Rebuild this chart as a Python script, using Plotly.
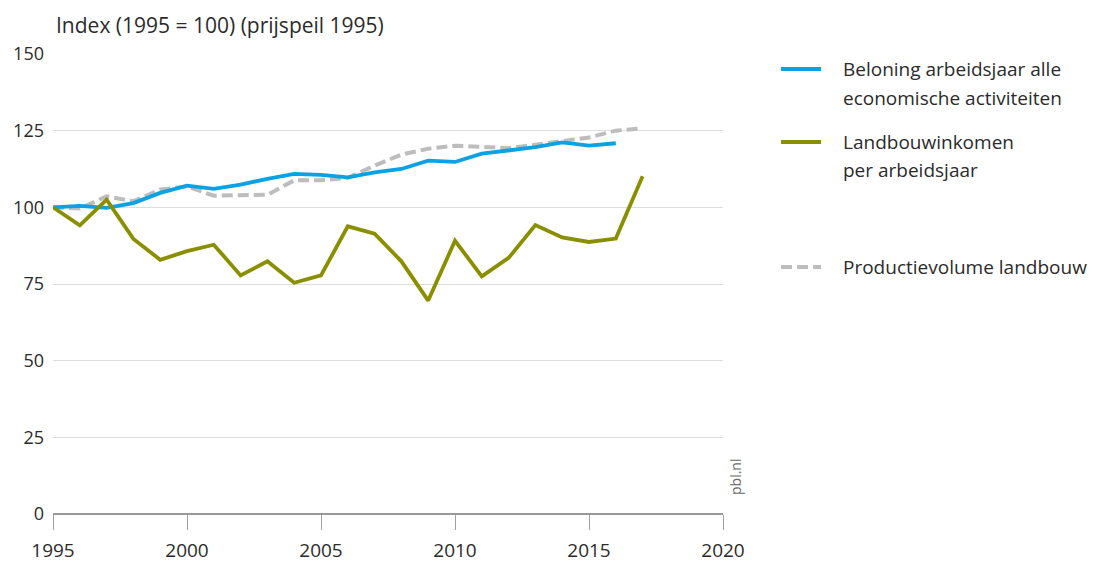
import plotly.graph_objects as go

years = list(range(1995, 2018))
beloning = [100, 100.5, 99.8, 101.4, 104.7, 107.1, 106.0, 107.4, 109.3, 110.9, 110.6,
            109.8, 111.4, 112.5, 115.2, 114.8, 117.5, 118.6, 119.6, 121.2, 120.1, 120.9]
landbouwinkomen = [100, 94.1, 102.5, 89.7, 82.9, 85.7, 87.8, 77.8, 82.4, 75.4, 77.8,
                   93.8, 91.4, 82.4, 69.6, 89.1, 77.5, 83.5, 94.2, 90.2, 88.7, 89.8, 110.1]
productievolume = [100, 99.6, 103.6, 102.0, 105.8, 106.8, 103.8, 104.1, 104.1, 108.8, 108.8,
                   109.6, 113.6, 117.2, 119.1, 120.1, 119.6, 119.3, 120.4, 121.7, 122.8, 125.0, 125.8]

legend_lines = [["Beloning arbeidsjaar alle", "economische activiteiten"],
                ["Landbouwinkomen", "per arbeidsjaar"],
                ["Productievolume landbouw"]]
x_ticks = [1995, 2000, 2005, 2010, 2015, 2020]
y_ticks = [0, 25, 50, 75, 100, 125, 150]

FONT = "Open Sans"
TXT = "#2b2b2b"
BLUE = "#0AA2E3"
OLIVE = "#8A8F00"
GREY = "#BDBDBD"

fig = go.Figure()
fig.add_trace(go.Scatter(x=years, y=productievolume, mode="lines", name=legend_lines[2][0],
                         line=dict(color=GREY, width=4, dash="11px,5px")))
fig.add_trace(go.Scatter(x=years[:len(beloning)], y=beloning, mode="lines",
                         name=" ".join(legend_lines[0]), line=dict(color=BLUE, width=3.8)))
fig.add_trace(go.Scatter(x=years, y=landbouwinkomen, mode="lines",
                         name=" ".join(legend_lines[1]), line=dict(color=OLIVE, width=3.8)))

# manual legend (paper coordinates)
sym_x0, sym_x1, txt_x = 1.0866, 1.1463, 1.176
legend_rows = [
    (BLUE, None, [0.9674, 0.9043]),
    (OLIVE, None, [0.8087, 0.7478]),
    (GREY, "11px,5px", [0.5370]),
]
shapes = []
annotations = []
for (color, dash, ys), lines in zip(legend_rows, legend_lines):
    shapes.append(dict(type="line", xref="paper", yref="paper", x0=sym_x0, x1=sym_x1,
                       y0=ys[0], y1=ys[0],
                       line=dict(color=color, width=4, dash=dash or "solid")))
    for yy, t in zip(ys, lines):
        annotations.append(dict(text=t, xref="paper", yref="paper", x=txt_x, y=yy,
                                xanchor="left", yanchor="middle", showarrow=False,
                                font=dict(size=19, color=TXT)))

annotations += [
    dict(text="Index (1995 = 100) (prijspeil 1995)", xref="paper", yref="paper",
         x=0.002, y=1.063, xanchor="left", yanchor="middle", showarrow=False,
         font=dict(size=21, color=TXT)),
    dict(text="pbl.nl", xref="paper", yref="paper", x=1.0194, y=0.037,
         xanchor="center", yanchor="bottom", textangle=-90, showarrow=False,
         font=dict(size=14, color="#6a6a6a")),
]

fig.update_layout(
    template="none",
    width=1112, height=555,
    margin=dict(l=45, r=397, t=46, b=49, autoexpand=False),
    paper_bgcolor="white", plot_bgcolor="white",
    font=dict(family=FONT, color=TXT, size=17),
    showlegend=False,
    xaxis=dict(range=[1995, 2020], tickvals=x_ticks, showgrid=False, automargin=False,
               zeroline=False, showline=False, ticks="outside", ticklen=15,
               tickcolor="#A0A0A0", tickwidth=1.3, ticklabelstandoff=4,
               tickfont=dict(size=19, color=TXT), fixedrange=True),
    yaxis=dict(range=[0, 150], tickvals=y_ticks, showgrid=True, gridcolor="#DDDDDD",
               gridwidth=1.2, zeroline=True, zerolinecolor="#999999", zerolinewidth=1.8,
               showline=False, ticks="", ticklabelstandoff=8, automargin=False,
               tickfont=dict(size=18, color=TXT), fixedrange=True),
    shapes=shapes,
    annotations=annotations,
)

fig.write_html("out.html")
